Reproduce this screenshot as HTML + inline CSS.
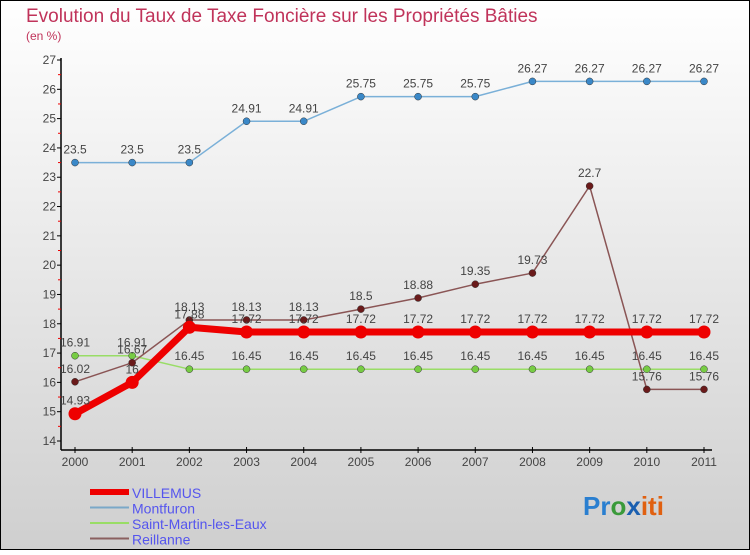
<!DOCTYPE html>
<html><head><meta charset="utf-8"><style>
body{margin:0;width:750px;height:550px;overflow:hidden;font-family:"Liberation Sans",sans-serif;}
svg text{font-family:"Liberation Sans",sans-serif;}
</style></head><body>
<svg id="chart" width="750" height="550" xmlns="http://www.w3.org/2000/svg">
<defs><linearGradient id="bg" x1="0" y1="0" x2="0" y2="1"><stop offset="0" stop-color="#ffffff"/><stop offset="1" stop-color="#cfcfcf"/></linearGradient></defs>
<rect x="0.5" y="0.5" width="749" height="549" fill="url(#bg)" stroke="#000"/>
<text x="26" y="22" font-size="19" fill="#c0335a">Evolution du Taux de Taxe Foncière sur les Propriétés Bâties</text>
<text x="26" y="40" font-size="12" fill="#c0335a">(en %)</text>
<g id="axes"></g><g id="series"></g><g id="legend"></g>
<text x="583" y="515" font-size="26" font-weight="bold"><tspan fill="#2a7fd0">Pr</tspan><tspan fill="#3a9a3a">o</tspan><tspan fill="#1a5fb0">x</tspan><tspan fill="#e06010">iti</tspan></text>
</svg>
<script>
const years=[2000,2001,2002,2003,2004,2005,2006,2007,2008,2009,2010,2011];
const yTicks=[14,15,16,17,18,19,20,21,22,23,24,25,26,27];
const villemus=[14.93,16,17.88,17.72,17.72,17.72,17.72,17.72,17.72,17.72,17.72,17.72];
const montfuron=[23.5,23.5,23.5,24.91,24.91,25.75,25.75,25.75,26.27,26.27,26.27,26.27];
const saintMartin=[16.91,16.91,16.45,16.45,16.45,16.45,16.45,16.45,16.45,16.45,16.45,16.45];
const reillanne=[16.02,16.67,18.13,18.13,18.13,18.5,18.88,19.35,19.73,22.7,15.76,15.76];
const NS="http://www.w3.org/2000/svg";
const x=i=>75+i*(629/11);
const y=v=>441-(v-14)*(381/13);
function mk(tag,attrs,parent){const e=document.createElementNS(NS,tag);for(const k in attrs)e.setAttribute(k,attrs[k]);parent.appendChild(e);return e;}
const axes=document.getElementById('axes');
let e=mk('line',{x1:61,y1:58,x2:61,y2:450,stroke:'#000','stroke-width':1.5},axes);


e=mk('line',{x1:61,y1:450,x2:712,y2:450,stroke:'#000','stroke-width':1.5},axes);


yTicks.forEach(t=>{
 mk('line',{x1:57,y1:y(t),x2:61,y2:y(t),stroke:'#000'},axes);
 if(t<27) mk('line',{x1:58,y1:y(t+0.5),x2:61,y2:y(t+0.5),stroke:'#e00'},axes);
 const tx=mk('text',{x:56,y:y(t)+4,'font-size':12,'text-anchor':'end',fill:'#444'},axes);
 tx.textContent=t;
 
 
});
years.forEach((yr,i)=>{
 mk('line',{x1:x(i),y1:447,x2:x(i),y2:453,stroke:'#000'},axes);
 const tx=mk('text',{x:x(i),y:466,'font-size':12,'text-anchor':'middle',fill:'#444'},axes);
 tx.textContent=yr;
 
 
});
const ser=document.getElementById('series');
function draw(vals,color,lw,r,dot,name){
 const g=mk('g',{},ser);
 
 
 const p=mk('polyline',{points:vals.map((v,i)=>x(i)+','+y(v)).join(' '),fill:'none',stroke:color,'stroke-width':lw,'stroke-linejoin':'round'},g);
 
 
 vals.forEach((v,i)=>{
  const c=mk('circle',{cx:x(i),cy:y(v),r:r,fill:dot,stroke:dot==='#e00'?'#e00':'#333','stroke-width':dot==='#e00'?0:0.5},g);
  
  
  const t=mk('text',{x:x(i),y:y(v)-9,'font-size':12,'text-anchor':'middle',fill:'#444'},g);
  t.textContent=v;
  
  
 });
}
draw(montfuron,'#7ab0d8',1.5,3.5,'#3a88c8','montfuron');
draw(saintMartin,'#99dd66',1.5,3.5,'#77cc44','saint-martin');
draw(reillanne,'#8a5555',1.5,3.5,'#6a1a1a','reillanne');
draw(villemus,'#ee0000',7,6.5,'#e00','villemus');
const leg=document.getElementById('legend');
[['VILLEMUS','#ee0000',6],['Montfuron','#7aa8c8',2],['Saint-Martin-les-Eaux','#99dd66',2],['Reillanne','#8a6060',2]].forEach((d,i)=>{
 const g=mk('g',{},leg);
 
 
 const ly=492+i*15.5;
 mk('line',{x1:90,y1:ly,x2:129,y2:ly,stroke:d[1],'stroke-width':d[2]},g);
 const t=mk('text',{x:132,y:ly+6,'font-size':14,fill:'#5555ee'},g);
 t.textContent=d[0];
});
</script>
</body></html>
